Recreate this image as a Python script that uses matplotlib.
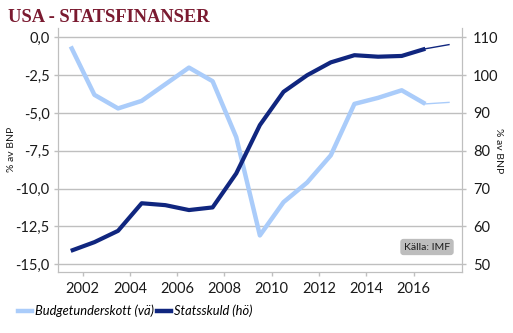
import matplotlib
matplotlib.use('Agg')
import matplotlib.pyplot as plt
import numpy as np

# data (2017 = forecast, thin segment)
years = np.arange(2001, 2018)
budget = [-0.6, -3.8, -4.7, -4.2, -3.1, -2.0, -2.9, -6.6, -13.1, -10.9,
          -9.6, -7.8, -4.4, -4.0, -3.5, -4.4, -4.3]
debt = [53.5, 55.8, 58.8, 66.1, 65.6, 64.3, 65.0, 74.0, 86.8, 95.6,
        100.0, 103.4, 105.3, 104.9, 105.1, 107.0, 108.1]
tick_years = np.arange(2002, 2017, 2)
left_ticks = [0, -2.5, -5, -7.5, -10, -12.5, -15]
right_ticks = [110, 100, 90, 80, 70, 60, 50]

light = '#aaccfa'
dark = '#10267f'
grey = '#bfbfbf'
font = 'Lato'

fig = plt.figure(figsize=(5.13, 3.33), dpi=100)
ax = fig.add_axes([58/513, 1 - 272/333, (462-58)/513, (272-28)/333])
ax2 = ax.twinx()

ax.plot(years[:-1], budget[:-1], color=light, lw=3.2, solid_capstyle='butt')
ax.plot(years[-2:], budget[-2:], color=light, lw=1.0)
ax2.plot(years[:-1], debt[:-1], color=dark, lw=3.0, solid_capstyle='butt')
ax2.plot(years[-2:], debt[-2:], color=dark, lw=1.0)

ax.set_xlim(2001 - 0.54, 2017 + 0.55)
ax.set_ylim(-15.52, 0.62)
ax2.set_ylim(47.9, 112.5)

ax.set_yticks(left_ticks)
ax.set_yticklabels([('%.1f' % v).replace('.', ',') for v in left_ticks])
ax2.set_yticks(right_ticks)
ax2.set_yticklabels([str(v) for v in right_ticks])
ax.set_xticks(tick_years - 0.5)
ax.set_xticklabels([str(y) for y in tick_years])

ax.grid(axis='y', color=grey, lw=1.0)
ax.set_axisbelow(True)
for a in (ax, ax2):
    a.spines['top'].set_visible(False)
    for s in ('left', 'right', 'bottom'):
        a.spines[s].set_color(grey)
    a.tick_params(colors=grey, length=3, width=1, labelcolor='#1a1a1a',
                  labelsize=10.5)
    for lab in a.get_xticklabels() + a.get_yticklabels():
        lab.set_fontfamily(font)
ax.tick_params(axis='y', pad=3)
ax2.tick_params(axis='y', pad=5)
ax.tick_params(axis='x', pad=4)

fig.text(12/513, 1 - 149/333, '% av BNP', rotation=90, ha='center',
         va='center', fontsize=7.5, family=font, color='#1a1a1a')
fig.text(498/513, 1 - 151/333, '% av BNP', rotation=270, ha='center',
         va='center', fontsize=7.5, family=font, color='#1a1a1a')

fig.text(8/513, 1 - 18/333, 'USA - STATSFINANSER', ha='left', va='center',
         fontsize=13.3, fontweight='bold', family='Liberation Serif',
         color='#7a1a30')

fig.text(427/513, 1 - 247/333, 'Källa: IMF', ha='center', va='center',
         fontsize=7.5, family=font, color='#1a1a1a',
         bbox=dict(boxstyle='round,pad=0.35,rounding_size=0.3',
                   fc='#bdbdbd', ec='none'))

h1, = ax.plot([], [], color=light, lw=3.2)
h2, = ax.plot([], [], color=dark, lw=3.2)
fig.legend([h1, h2], ['Budgetunderskott (vä)', 'Statsskuld (hö)'],
           loc='center left', bbox_to_anchor=(6/513, 1 - 311/333),
           ncol=2, frameon=False, handlelength=1.15, handletextpad=0.2,
           columnspacing=0.2, prop={'family': font, 'style': 'italic',
                                    'size': 9.3})

fig.savefig('out.png', dpi=100)
